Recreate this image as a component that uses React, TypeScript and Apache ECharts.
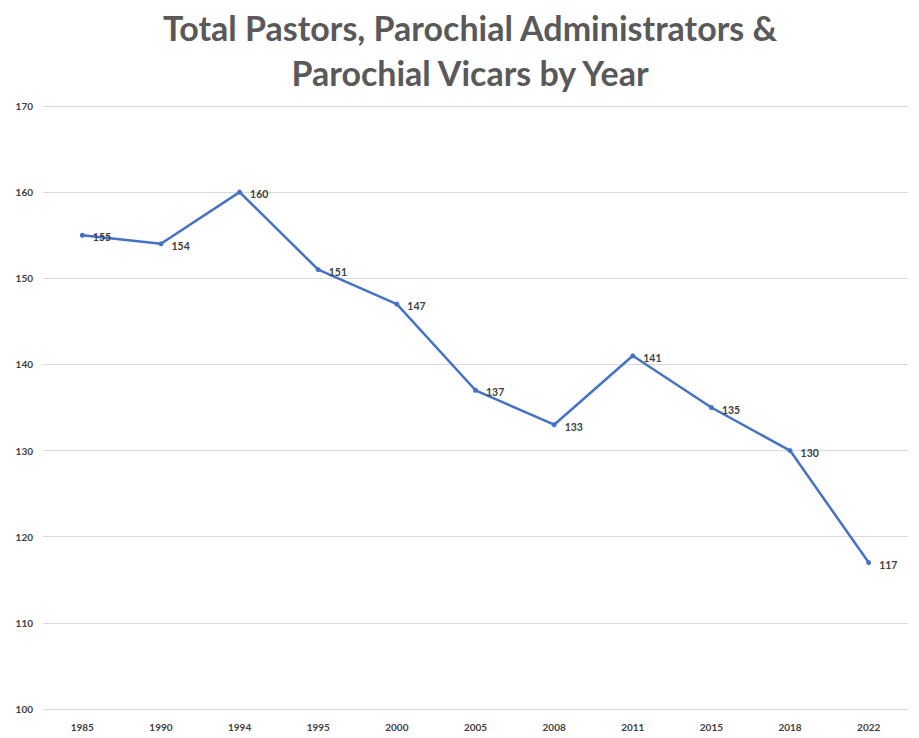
import React, { useEffect, useRef } from "react";
import * as echarts from "echarts";

const years = ["1985", "1990", "1994", "1995", "2000", "2005", "2008", "2011", "2015", "2018", "2022"];
const totals = [155, 154, 160, 151, 147, 137, 133, 141, 135, 130, 117];
const yTicks = { min: 100, max: 170, interval: 10 };
const titleLines = ["Total Pastors, Parochial Administrators &", "Parochial Vicars by Year"];

export default function App() {
  const ref = useRef<HTMLDivElement>(null);
  useEffect(() => {
    const chart = echarts.init(ref.current!, undefined, { renderer: "svg" });
    chart.setOption({
      animation: false,
      backgroundColor: "#ffffff",
      title: {
        text: titleLines.join("\n"),
        left: 465,
        textAlign: "center",
        top: 0,
        textStyle: {
          fontFamily: "Lato",
          fontWeight: "bold",
          fontSize: 34,
          lineHeight: 45,
          color: "#595959",
        },
      },
      grid: { left: 43, right: 11, top: 106, bottom: 29, containLabel: false },
      xAxis: {
        type: "category",
        data: years,
        boundaryGap: true,
        axisLine: { show: false },
        axisTick: { show: false },
        axisLabel: {
          fontFamily: "Lato",
          fontWeight: "bold",
          fontSize: 10,
          color: "#404040",
          margin: 13,
        },
      },
      yAxis: {
        type: "value",
        min: yTicks.min,
        max: yTicks.max,
        interval: yTicks.interval,
        axisLine: { show: false },
        axisTick: { show: false },
        splitLine: { lineStyle: { color: "#d9d9d9", width: 1 } },
        axisLabel: {
          fontFamily: "Lato",
          fontWeight: "bold",
          fontSize: 10,
          color: "#404040",
          margin: 10,
        },
      },
      series: [
        {
          type: "line",
          data: totals,
          symbol: "circle",
          symbolSize: 5,
          lineStyle: { color: "#4472C4", width: 2.5 },
          itemStyle: { color: "#4472C4" },
          label: {
            show: true,
            position: "right",
            distance: 8,
            fontFamily: "Lato",
            fontWeight: "bold",
            fontSize: 10.5,
            color: "#404040",
            offset: [0, 2],
          },
        },
      ],
    });
    return () => chart.dispose();
  }, []);
  return <div ref={ref} style={{ width: 919, height: 738, position: "absolute", left: 0, top: 0 }} />;
}
